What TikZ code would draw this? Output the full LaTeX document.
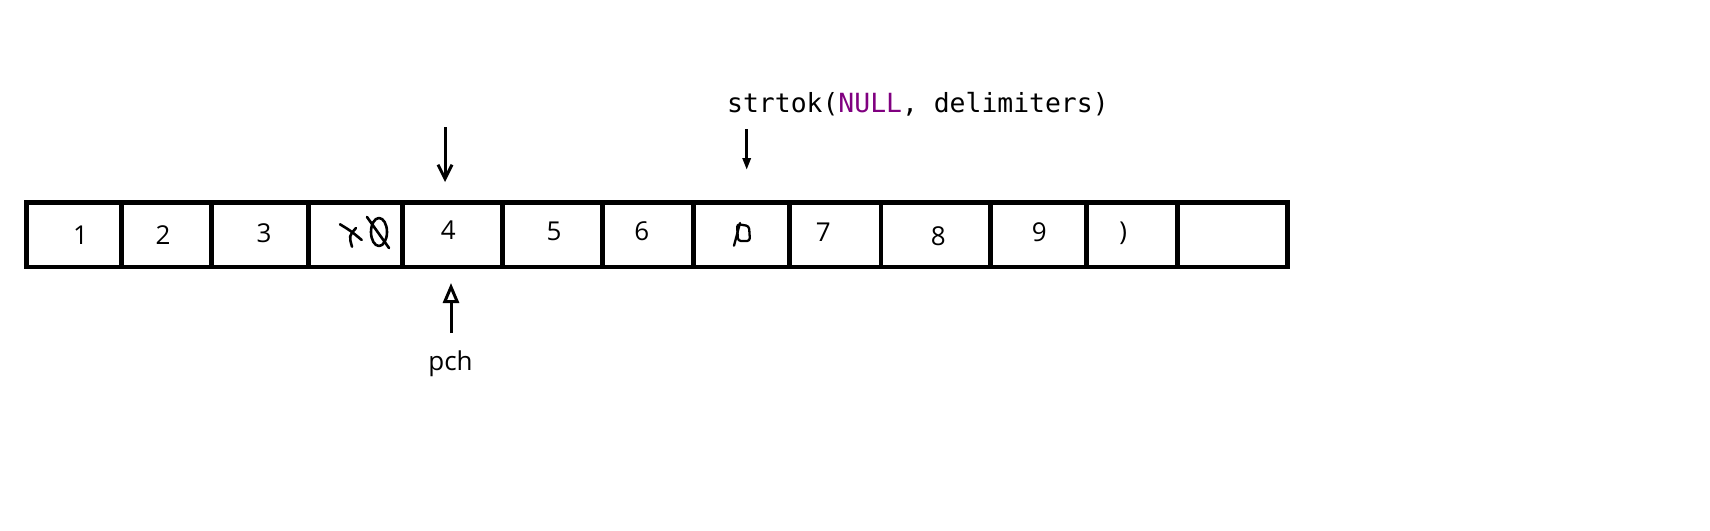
\documentclass[tikz,border=0pt]{standalone}
\usepackage{fontspec}
\setmainfont{Open Sans}
\newfontfamily\codefont{DejaVu Sans Mono}
\usetikzlibrary{arrows.meta}
\definecolor{nullpurple}{RGB}{128,0,128}
\begin{document}
\begin{tikzpicture}[x=1pt,y=-1pt,
  cell/.style={draw, line width=4.7pt, rectangle, inner sep=0pt, minimum height=64.7pt},
  digit/.style={inner sep=0pt, font=\fontsize{26}{30}\selectfont},
  scribble/.style={line width=2.6pt, line cap=round, line join=round},
  arr/.style={line width=3pt}]
\useasboundingbox (0,0) rectangle (1710,530);

% cells
\node[cell, minimum width=95.4pt]  (c1)  at (74,234.65) {};
\node[cell, minimum width=90pt]    (c2)  at (166.7,234.65) {};
\node[cell, minimum width=96.6pt]  (c3)  at (260,234.65) {};
\node[cell, minimum width=94pt]    (c4)  at (355.3,234.65) {};
\node[cell, minimum width=100pt]   (c5)  at (452.3,234.65) {};
\node[cell, minimum width=100pt]   (c6)  at (552.3,234.65) {};
\node[cell, minimum width=91.2pt]  (c7)  at (647.9,234.65) {};
\node[cell, minimum width=96.2pt]  (c8)  at (741.6,234.65) {};
\node[cell, minimum width=91.3pt]  (c9)  at (835.35,234.65) {};
\node[cell, minimum width=109.7pt] (c10) at (935.85,234.65) {};
\node[cell, minimum width=95.8pt]  (c11) at (1038.6,234.65) {};
\node[cell, minimum width=91pt]    (c12) at (1132,234.65) {};
\node[cell, minimum width=110.2pt] (c13) at (1232.6,234.65) {};

% cell contents
\node[digit] (t1)  at (80.5,235) {1};
\node[digit] (t2)  at (163,235.5) {2};
\node[digit] (t3)  at (264,233.5) {3};
\node[digit] (t5)  at (448.3,230.5) {4};
\node[digit] (t6)  at (554,231.7) {5};
\node[digit] (t7)  at (641.7,231) {6};
\node[digit] (t9)  at (823.3,232) {7};
\node[digit] (t10) at (938.3,236.7) {8};
\node[digit] (t11) at (1039.3,232) {9};
\node[digit] (t12) at (1123.3,233.3) {)};

% scribbles in cell 4
\draw[scribble] (340,224.3) .. controls (351,231) .. (361.7,240);
\draw[scribble] (356,228) .. controls (349,236) .. (352,246.7);
\draw[scribble] (379,232) ellipse [x radius=8, y radius=14];
\draw[scribble] (367,217) -- (389,248);

% scribble in cell 8
\draw[scribble, line width=2.3pt, rounded corners=3pt] (737,224) -- (749,226) -- (750,241) -- (738,241) -- cycle;
\draw[scribble, line width=2.3pt] (740,223) -- (734,245.7);

% labels
\node[anchor=base, inner sep=0pt, font=\fontsize{26}{30}\selectfont] (pch) at (450.5,370) {pch};
\node[anchor=base west, inner sep=0pt, font=\codefont\fontsize{26.4}{30}\selectfont] (call) at (727,112)
  {strtok(\textcolor{nullpurple}{NULL}, delimiters)};

% arrows
\coordinate (a1s) at (445,127);
\coordinate (a1e) at (445,182);
\draw[arr, -{Straight Barb[length=14pt, width=14pt]}] (a1s) -- (a1e);

\coordinate (a2s) at (746.7,129);
\coordinate (a2e) at (746.7,170);
\draw[arr, -{Triangle[length=12pt, width=8pt]}] (a2s) -- (a2e);

\coordinate (a3s) at (451,333);
\coordinate (a3e) at (451,283);
\draw[arr, -{Triangle[open, length=20pt, width=16pt]}] (a3s) -- (a3e);
\end{tikzpicture}
\end{document}
